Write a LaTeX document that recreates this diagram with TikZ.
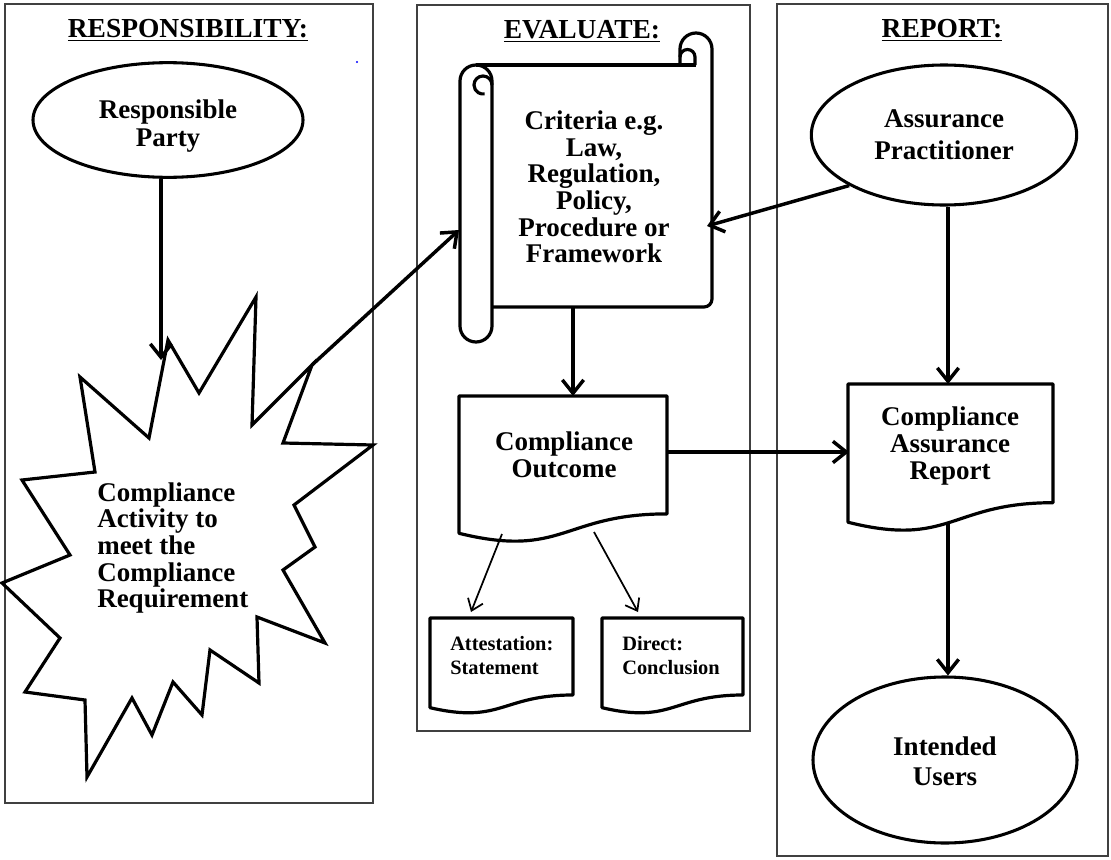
\documentclass[tikz,border=0pt]{standalone}
\usepackage{fontspec}
\setmainfont{Liberation Serif}
\usetikzlibrary{arrows.meta,shapes.geometric}
\newcommand\docshape[4]{\draw[outl] (#1,#2) -- (#1+#3,#2) -- (#1+#3,#2+0.802*#4) .. controls (#1+0.5*#3,#2+0.802*#4) and (#1+0.5*#3,#2+1.1075*#4) .. (#1,#2+0.934*#4) -- cycle;}
\begin{document}
\begin{tikzpicture}[x=0.75pt,y=-0.75pt,
  panel/.style={draw=black!75,line width=1pt},
  title/.style={font=\fontsize{20.6}{20}\selectfont\bfseries,inner sep=0pt},
  lbl/.style={font=\fontsize{20.25}{20}\selectfont\bfseries,align=center,inner sep=0pt},
  small/.style={font=\fontsize{15.3}{18}\selectfont\bfseries,align=left,inner sep=0pt,anchor=west},
  outl/.style={draw=black,line width=2.4pt,line join=round},
  oval/.style={ellipse,draw=black,line width=2.3pt,inner sep=0pt},
  arr/.style={line width=2.6pt,-{Straight Barb[length=10pt,width=16pt]}},
  thinarr/.style={line width=1.3pt,-{Straight Barb[length=8pt,width=12pt]}}
]
\fill[white] (0,0) rectangle (1111,860);
\useasboundingbox (0,0) rectangle (1111,860);

% panels
\draw[panel] (5,4) rectangle (373,803);
\draw[panel] (417,5) rectangle (750,731);
\draw[panel] (777,4) rectangle (1108,856);

% titles
\node[title] (t1) at (188,30) {\underline{RESPONSIBILITY:}};
\node[title] (t2) at (582,31) {\underline{EVALUATE:}};
\node[title] (t3) at (942,30) {\underline{REPORT:}};
\fill[blue] (357,62) circle[radius=1.2];

% ellipses
\node[oval,minimum width=202.5pt,minimum height=86pt] (rp) at (168,120) {};
\node[lbl,font=\fontsize{20.25}{21}\selectfont\bfseries] (rpt) at (168,126) {Responsible\\Party};
\node[oval,minimum width=199pt,minimum height=105pt] (ap) at (944,135) {};
\node[lbl,font=\fontsize{20.25}{24}\selectfont\bfseries] (apt) at (944,135) {Assurance\\Practitioner};
\node[oval,minimum width=198pt,minimum height=124.5pt] (iu) at (945,760) {};
\node[lbl,font=\fontsize{20.25}{22.5}\selectfont\bfseries] (iut) at (945,761) {Intended\\Users};

% starburst
\draw[outl,line join=miter] (168,340) -- (199,393) -- (256,297) -- (252,425) -- (312,365) -- (283,443) -- (373,445) -- (294,505) -- (315,547) -- (283,570) -- (325,643) -- (257,617) -- (259,683) -- (210,650) -- (202,715) -- (173,682) -- (152,735) -- (132,698) -- (87,777) -- (85,700) -- (25,692) -- (60,638) -- (2,583) -- (70,555) -- (22,480) -- (95,472) -- (80,377) -- (149,438) -- cycle;
\node[lbl,align=left,anchor=west] (ca) at (97,548) {Compliance\\Activity to\\meet the\\Compliance\\Requirement};
\coordinate (sbtop) at (161,360);
\coordinate (sbtip) at (312,365);

% scroll
\draw[outl] (460,81) -- (460,326) arc[start angle=180,end angle=0,radius=16] -- (492,81) arc[start angle=0,end angle=-180,radius=16];
\draw[outl] (492,85) arc[start angle=0,end angle=-280,radius=9];
\draw[outl] (476,65) -- (696,65);
\draw[outl] (680,65) -- (680,49) arc[start angle=180,end angle=360,radius=16] -- (712,299) arc[start angle=0,end angle=90,radius=8] -- (492,307);
\draw[outl] (680,57) arc[start angle=180,end angle=360,radius=7.5] -- (695,65);
\node[lbl] (crit) at (594,187) {Criteria e.g.\\Law,\\Regulation,\\Policy,\\Procedure or\\Framework};
\coordinate (rollL) at (459,230);
\coordinate (critR) at (707,226);
\coordinate (critB) at (573,307);

% documents
\docshape{459}{396}{208}{147}
\node[lbl] (co) at (564,455) {Compliance\\Outcome};
\coordinate (coT) at (573,396);
\coordinate (coR) at (667,452);
\coordinate (coBL) at (502,534);
\coordinate (coBR) at (594,532);

\docshape{848}{384}{205}{148}
\node[lbl] (rep) at (950,446) {Compliance\\Assurance\\Report};
\coordinate (repL) at (849,452);
\coordinate (repT) at (948,384);
\coordinate (repB) at (948,524);

\docshape{430}{618}{143}{96}
\node[small] (att) at (450,656) {Attestation:\\Statement};
\docshape{602}{618}{141}{96}
\node[small] (dir) at (622,656) {Direct:\\Conclusion};
\coordinate (attT) at (471,612);
\coordinate (dirT) at (638,612);

% connectors
\draw[arr] ([xshift=-5.25pt]rp.south) -- (sbtop);
\draw[arr] (sbtip) -- (rollL);
\draw[arr] (ap.south west) -- (critR);
\draw[arr] (critB) -- (coT);
\draw[arr] (coR) -- (repL);
\draw[arr] ([xshift=3pt]ap.south) -- (repT);
\draw[arr] (repB) -- ([xshift=2.25pt]iu.north);
\draw[thinarr] (coBL) -- (attT);
\draw[thinarr] (coBR) -- (dirT);
\end{tikzpicture}
\end{document}
